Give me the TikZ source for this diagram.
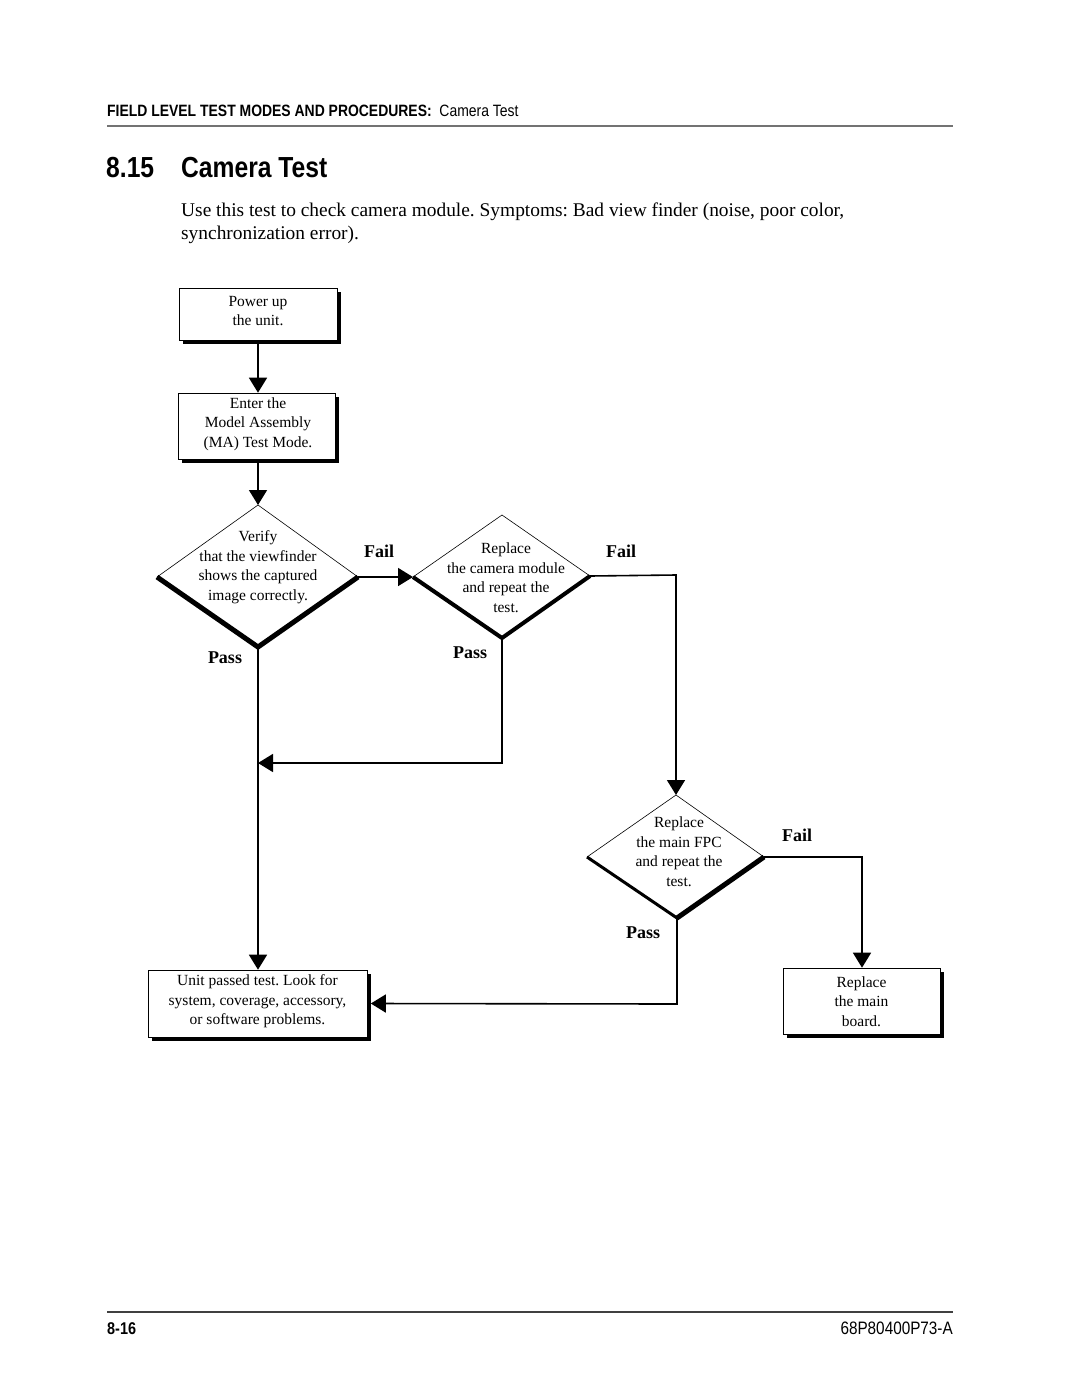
\documentclass[tikz,border=0pt]{standalone}
\usepackage{fontspec}
\setmainfont{Liberation Serif}
\newfontfamily\hsans[FakeStretch=0.85]{Liberation Sans}
\usetikzlibrary{arrows.meta,shadows}
\frenchspacing
\tikzset{
  boxnode/.style={draw=black, line width=0.6pt, fill=white, align=center,
    inner sep=0pt, font=\fontsize{15.5}{19.5}\selectfont,
    drop shadow={shadow xshift=3.5pt, shadow yshift=-3.5pt, fill=black, opacity=1}},
  boxtext/.style={align=center, inner sep=0pt, font=\fontsize{15.5}{19.5}\selectfont},
  dtext/.style={align=center, font=\fontsize{15.5}{19.5}\selectfont},
  lbl/.style={font=\fontsize{18}{20}\selectfont\bfseries},
  conn/.style={line width=1.6pt, -{Triangle[length=15pt,width=18pt]}},
  thin/.style={line width=0.6pt},
}
\begin{document}
\begin{tikzpicture}[x=1pt,y=-1pt]
\useasboundingbox[fill=white] (0,0) rectangle (1080,1397);
% header
\node[anchor=base west, inner sep=0pt, font=\fontsize{16.4}{18}\hsans] (hdr) at (107,116)
  {\bfseries FIELD LEVEL TEST MODES AND PROCEDURES:\mdseries\ \ Camera Test};
\draw[line width=2pt, black!55] (107,126) -- (953,126);
\node[anchor=base west, inner sep=0pt, font=\fontsize{29}{32}\hsans\bfseries] (tnum) at (106,177) {8.15};
\node[anchor=base west, inner sep=0pt, font=\fontsize{29}{32}\hsans\bfseries] (ttl) at (181,177) {Camera Test};
\node[anchor=base west, inner sep=0pt, font=\fontsize{19.4}{23}\selectfont] (p1) at (181,216)
  {Use this test to check camera module. Symptoms: Bad view finder (noise, poor color,};
\node[anchor=base west, inner sep=0pt, font=\fontsize{19.4}{23}\selectfont] (p2) at (181,239)
  {synchronization error).};
% boxes
\node[boxnode, minimum width=158pt, minimum height=52pt] (b1) at (258,314) {};
\node[boxtext] (b1t) at (258,311) {Power up\\the unit.};
\node[boxnode, minimum width=157pt, minimum height=66pt] (b2) at (256.5,426) {};
\node[boxtext] (b2t) at (258,424) {Enter the\\Model Assembly\\(MA) Test Mode.};
\node[boxnode, minimum width=219pt, minimum height=67pt] (b4) at (257.5,1003.5) {};
\node[boxtext] (b4t) at (257.5,1001.5) {Unit passed test. Look for\\system, coverage, accessory,\\or software problems.};
\node[boxnode, minimum width=157pt, minimum height=66pt] (b5) at (861.5,1001) {};
\node[boxtext] (b5t) at (861.5,1001.5) {Replace\\the main\\board.};
% diamond 1
\coordinate (d1t) at (258,505); \coordinate (d1l) at (157,577);
\coordinate (d1r) at (358,577); \coordinate (d1b) at (258,647);
\draw[thin] (d1l) -- (d1t) -- (d1r);
\draw[line width=5pt, line join=miter] (d1l) -- (d1b) -- (d1r);
\node[dtext] (d1) at (258,567) {Verify\\that the viewfinder\\shows the captured\\image correctly.};
% diamond 2
\coordinate (d2t) at (502,515); \coordinate (d2l) at (413,577);
\coordinate (d2r) at (590,576); \coordinate (d2b) at (502,638);
\draw[thin] (d2l) -- (d2t) -- (d2r);
\draw[line width=4pt, line join=miter] (d2l) -- (d2b) -- (d2r);
\node[dtext] (d2) at (506,577.5) {Replace\\the camera module\\and repeat the\\test.};
% diamond 3
\coordinate (d3t) at (676,795); \coordinate (d3l) at (587,857);
\coordinate (d3r) at (764,857); \coordinate (d3b) at (677,918);
\draw[thin] (d3l) -- (d3t) -- (d3r);
\draw[line width=3pt] (d3l) -- (d3b);
\draw[line width=5pt] (d3b) -- (d3r);
\node[dtext] (d3) at (679,851.5) {Replace\\the main FPC\\and repeat the\\test.};
% labels
\node[lbl] (f1) at (379,551) {Fail};
\node[lbl] (f2) at (621,551) {Fail};
\node[lbl] (f3) at (797,835) {Fail};
\node[lbl] (s1) at (225,658) {Pass};
\node[lbl] (s2) at (470,653) {Pass};
\node[lbl] (s3) at (643,933) {Pass};
% connectors
\coordinate (b1s) at (258,344);
\coordinate (b2s) at (258,462);
\coordinate (j1) at (258,763);
\coordinate (k1) at (676,575);
\coordinate (k2) at (862,857);
\coordinate (k3) at (677,1004);
\draw[conn] (b1s) -- (b2.north -| b1s);
\draw[conn] (b2s) -- (d1t);
\draw[conn] (d1r) -- (d2l);
\draw[conn] (d1b) -- (b4.north -| d1b);
\draw[conn] (d2b) -- (d2b |- j1) -- (j1);
\draw[conn] (d2r) -- (k1) -- (d3t);
\draw[conn] (d3r) -- (k2) -- (k2 |- b5.north);
\draw[conn] (d3b) -- (k3) -- ([xshift=3.5pt]b4.east);
% footer
\draw[line width=1.5pt, black!75] (107,1312) -- (953,1312);
\node[anchor=base west, inner sep=0pt, font=\fontsize{17}{18}\hsans\bfseries] (pg) at (107,1334) {8-16};
\node[anchor=base east, inner sep=0pt, font=\fontsize{18}{18}\hsans] (doc) at (953,1334) {68P80400P73-A};
\end{tikzpicture}
\end{document}
